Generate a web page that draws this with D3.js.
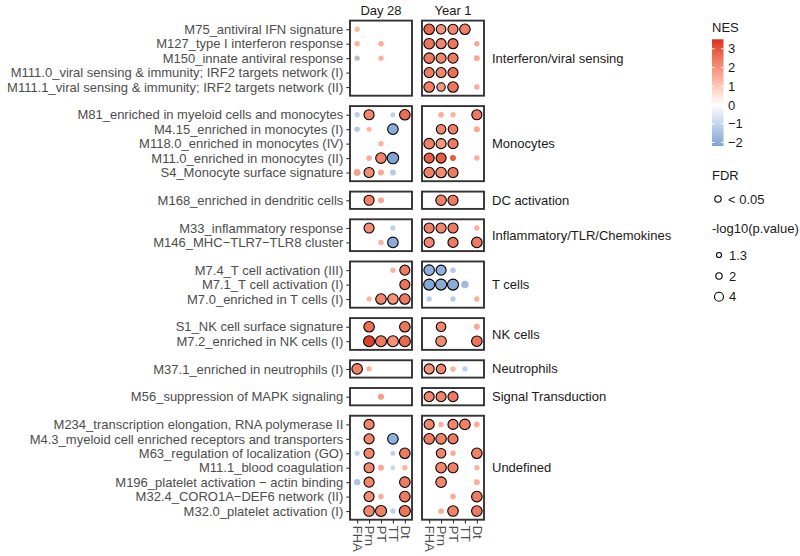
<!DOCTYPE html>
<html><head><meta charset="utf-8">
<script src="https://cdn.jsdelivr.net/npm/d3@7"></script>
<style>body{margin:0;background:#fff}svg{display:block;font-family:"Liberation Sans",Arial,sans-serif}</style>
</head><body><svg id="c" width="800" height="556"></svg>
<script>
const timepoints = ["Day 28", "Year 1"];
const tpKeys = ["D", "Y"];
const antigens = ["FHA", "Prn", "PT", "TT", "Dt"];
const groups = ["Interferon/viral sensing","Monocytes","DC activation","Inflammatory/TLR/Chemokines","T cells","NK cells","Neutrophils","Signal Transduction","Undefined"];
const moduleCodes = [
  ["M75","M127","M150","M111.0","M111.1"],
  ["M81","M4.15","M118.0","M11.0","S4"],
  ["M168"],
  ["M33","M146"],
  ["M7.4","M7.1","M7.0"],
  ["S1","M7.2"],
  ["M37.1"],
  ["M56"],
  ["M234","M4.3","M63","M11.1","M196","M32.4","M32.0"]
];
const moduleNames = {
  "M75":"M75_antiviral IFN signature","M127":"M127_type I interferon response","M150":"M150_innate antiviral response",
  "M111.0":"M111.0_viral sensing & immunity; IRF2 targets network (I)","M111.1":"M111.1_viral sensing & immunity; IRF2 targets network (II)",
  "M81":"M81_enriched in myeloid cells and monocytes","M4.15":"M4.15_enriched in monocytes (I)","M118.0":"M118.0_enriched in monocytes (IV)",
  "M11.0":"M11.0_enriched in monocytes (II)","S4":"S4_Monocyte surface signature","M168":"M168_enriched in dendritic cells",
  "M33":"M33_inflammatory response","M146":"M146_MHC\u2212TLR7\u2212TLR8 cluster","M7.4":"M7.4_T cell activation (III)",
  "M7.1":"M7.1_T cell activation (I)","M7.0":"M7.0_enriched in T cells (I)","S1":"S1_NK cell surface signature",
  "M7.2":"M7.2_enriched in NK cells (I)","M37.1":"M37.1_enriched in neutrophils (I)","M56":"M56_suppression of MAPK signaling",
  "M234":"M234_transcription elongation, RNA polymerase II","M4.3":"M4.3_myeloid cell enriched receptors and transporters",
  "M63":"M63_regulation of localization (GO)","M11.1":"M11.1_blood coagulation","M196":"M196_platelet activation \u2212 actin binding",
  "M32.4":"M32.4_CORO1A\u2212DEF6 network (II)","M32.0":"M32.0_platelet activation (I)"
};
// [module, timepoint, antigen, NES, -log10(p), FDR<0.05]
const points = [
 ["M75","D","FHA",1.3,1.4,0],
 ["M127","D","FHA",1.4,1.4,0],["M127","D","PT",1.5,1.5,0],
 ["M150","D","FHA",null,1.3,0],["M150","D","PT",1.4,1.4,0],
 ["M81","D","FHA",-1.2,1.4,0],["M81","D","Prn",2.2,5,1],["M81","D","TT",-1.1,1.3,0],["M81","D","Dt",2.6,5.5,1],
 ["M4.15","D","FHA",-1.3,1.5,0],["M4.15","D","Prn",1.3,1.3,0],["M4.15","D","TT",-2.0,5.5,1],
 ["M118.0","D","PT",1.4,1.4,0],
 ["M11.0","D","Prn",1.5,1.6,0],["M11.0","D","PT",2.2,5.5,1],["M11.0","D","TT",-2.2,6.5,1],
 ["S4","D","FHA",1.7,2.3,0],["S4","D","Prn",2.1,5,1],["S4","D","PT",1.6,1.8,0],["S4","D","TT",-1.3,1.7,0],
 ["M168","D","Prn",2.3,5,1],["M168","D","PT",1.6,1.8,0],
 ["M33","D","Prn",2.1,5,1],["M33","D","TT",-1.1,1.4,0],
 ["M146","D","PT",1.4,1.5,0],["M146","D","TT",-2.0,5.5,1],
 ["M7.4","D","TT",1.4,1.4,0],["M7.4","D","Dt",2.4,5,1],
 ["M7.1","D","Dt",2.5,5,1],
 ["M7.0","D","Prn",1.3,1.4,0],["M7.0","D","PT",2.2,5.5,1],["M7.0","D","TT",2.0,5.5,1],["M7.0","D","Dt",2.4,5.5,1],
 ["S1","D","Prn",2.6,5.5,1],["S1","D","Dt",2.5,5.5,1],
 ["M7.2","D","Prn",3.3,6,1],["M7.2","D","PT",2.4,6,1],["M7.2","D","TT",2.0,6,1],["M7.2","D","Dt",2.7,6,1],
 ["M37.1","D","FHA",2.3,5.5,1],["M37.1","D","Prn",1.4,1.4,0],
 ["M56","D","PT",1.8,1.8,0],
 ["M234","D","Prn",2.2,5,1],
 ["M4.3","D","Prn",2.2,5,1],["M4.3","D","TT",-1.9,5.5,1],
 ["M63","D","FHA",-1.1,1.3,0],["M63","D","Prn",2.2,5,1],["M63","D","TT",-1.1,1.3,0],["M63","D","Dt",2.4,5.5,1],
 ["M11.1","D","Prn",2.2,5,1],["M11.1","D","PT",1.6,1.7,0],["M11.1","D","TT",-1.0,1.2,0],["M11.1","D","Dt",1.4,1.5,0],
 ["M196","D","FHA",-1.4,2.0,0],["M196","D","Prn",2.2,5,1],["M196","D","Dt",2.4,5.5,1],
 ["M32.4","D","Prn",2.1,5,1],["M32.4","D","PT",1.5,1.5,0],["M32.4","D","Dt",2.4,5.5,1],
 ["M32.0","D","Prn",2.2,5.5,1],["M32.0","D","PT",2.3,6,1],["M32.0","D","TT",-1.1,1.4,0],["M32.0","D","Dt",2.5,6,1],
 ["M75","Y","FHA",2.7,5.5,1],["M75","Y","Prn",2.0,4.5,1],["M75","Y","PT",2.2,5,1],["M75","Y","TT",2.3,5.5,1],
 ["M127","Y","FHA",2.5,5.5,1],["M127","Y","Prn",2.2,5,1],["M127","Y","PT",2.5,5,1],["M127","Y","Dt",1.6,1.5,0],
 ["M150","Y","FHA",2.4,5.5,1],["M150","Y","Prn",2.2,5,1],["M150","Y","PT",2.4,5,1],["M150","Y","Dt",1.6,1.7,0],
 ["M111.0","Y","FHA",2.4,5,1],["M111.0","Y","Prn",2.2,5,1],["M111.0","Y","PT",2.6,5,1],
 ["M111.1","Y","FHA",2.3,5.5,1],["M111.1","Y","Prn",1.9,3.5,1],["M111.1","Y","PT",2.5,5.5,1],["M111.1","Y","Dt",1.5,1.5,0],
 ["M81","Y","Prn",1.5,1.6,0],["M81","Y","PT",1.4,1.5,0],["M81","Y","Dt",2.4,5,1],
 ["M4.15","Y","Prn",2.2,4.5,1],["M4.15","Y","PT",2.3,4.5,1],["M4.15","Y","Dt",1.6,1.8,0],
 ["M118.0","Y","FHA",2.3,5.5,1],["M118.0","Y","Prn",1.9,5,1],["M118.0","Y","PT",2.4,5,1],
 ["M11.0","Y","FHA",2.9,5,1],["M11.0","Y","Prn",2.9,5,1],["M11.0","Y","PT",2.9,1.8,0],["M11.0","Y","Dt",1.5,1.5,0],
 ["S4","Y","FHA",2.3,5.5,1],["S4","Y","Prn",2.1,5.5,1],["S4","Y","PT",2.4,5,1],
 ["M168","Y","Prn",2.3,5.5,1],["M168","Y","PT",2.4,5,1],
 ["M33","Y","FHA",2.3,5,1],["M33","Y","Prn",2.2,5,1],["M33","Y","PT",2.4,5,1],["M33","Y","Dt",1.5,1.4,0],
 ["M146","Y","FHA",2.2,5,1],["M146","Y","PT",2.4,5,1],["M146","Y","Dt",2.4,5.5,1],
 ["M7.4","Y","FHA",-1.9,5.5,1],["M7.4","Y","Prn",-1.9,5,1],["M7.4","Y","PT",-1.3,1.5,0],
 ["M7.1","Y","FHA",-2.1,6,1],["M7.1","Y","Prn",-2.0,6,1],["M7.1","Y","PT",-2.0,6,1],["M7.1","Y","TT",-1.6,2.8,0],
 ["M7.0","Y","FHA",-1.2,1.4,0],["M7.0","Y","PT",-1.2,1.4,0],["M7.0","Y","Dt",1.5,1.4,0],
 ["S1","Y","Prn",2.2,4.5,1],["S1","Y","Dt",1.6,1.7,0],
 ["M7.2","Y","Prn",2.1,5.5,1],["M7.2","Y","Dt",2.5,5.5,1],
 ["M37.1","Y","FHA",2.0,5,1],["M37.1","Y","Prn",2.2,4.5,1],["M37.1","Y","PT",1.4,1.5,0],["M37.1","Y","TT",-1.1,1.4,0],
 ["M56","Y","FHA",2.2,5,1],["M56","Y","Prn",2.2,5,1],["M56","Y","PT",2.4,5,1],
 ["M234","Y","FHA",2.2,5,1],["M234","Y","Prn",1.5,1.4,0],["M234","Y","PT",2.2,5,1],["M234","Y","TT",2.3,5.5,1],["M234","Y","Dt",1.5,1.6,0],
 ["M4.3","Y","FHA",2.4,5.5,1],["M4.3","Y","Prn",2.3,5.5,1],["M4.3","Y","PT",2.4,5,1],
 ["M63","Y","Prn",2.2,4.5,1],["M63","Y","PT",1.5,1.5,0],["M63","Y","Dt",2.3,5.5,1],
 ["M11.1","Y","Prn",2.2,5.5,1],["M11.1","Y","PT",2.3,5,1],["M11.1","Y","Dt",1.4,1.4,0],
 ["M196","Y","Prn",2.2,5.5,1],["M196","Y","Dt",1.5,1.7,0],
 ["M32.4","Y","PT",1.5,1.6,0],["M32.4","Y","Dt",2.4,5.5,1],
 ["M32.0","Y","Prn",1.5,1.6,0],["M32.0","Y","PT",2.3,5.5,1],["M32.0","Y","Dt",2.4,5.5,1]
];
const nesTicks = [3, 2, 1, 0, -1, -2];
const nesLimits = [-2.19, 3.51];
const sizeTicks = [1.3, 2, 4];
const sizeLabels = ["1.3", "2", "4"];

const svg = d3.select("#c");
const FS = 13;
const plotTop = 20.6, plotBottom = 519.7, gap = 10.4;
const colX = [[350, 412], [422, 484]];
const totalUnits = d3.sum(moduleCodes, m => m.length - 1 + 1.2);
const unit = (plotBottom - plotTop - gap * (groups.length - 1)) / totalUnits;

const LOW = "#346dbc", MID = "#ffffff", HIGH = "#d8301f";
const color = d3.scaleLinear().domain([-3.5, 0, 3.5]).range([LOW, MID, HIGH])
  .interpolate((a, b) => (a === LOW ? d3.interpolateRgb(a, b) : d3.interpolateLab(a, b)));
const rScale = d3.scaleSqrt().domain([0, 4]).range([0, 4.5]);
const xScales = colX.map(r => d3.scalePoint().domain(antigens).range(r).padding(0.6));

const axisCol = "#4d4d4d", tickCol = "#333333", borderCol = "#333333";

timepoints.forEach((t, i) => {
  svg.append("text").attr("x", (colX[i][0] + colX[i][1]) / 2).attr("y", 15)
    .attr("text-anchor", "middle").attr("font-size", FS).attr("fill", "#1a1a1a").text(t);
});

let yCur = plotTop;
groups.forEach((g, gi) => {
  const mods = moduleCodes[gi];
  const h = (mods.length - 1 + 1.2) * unit;
  const y = d3.scalePoint().domain(mods).range([yCur, yCur + h]).padding(0.6);
  const ya = svg.append("g").attr("transform", `translate(${colX[0][0]},0)`)
    .call(d3.axisLeft(y).tickSize(3.7).tickPadding(3).tickFormat(d => moduleNames[d]));
  ya.select(".domain").remove();
  ya.selectAll("line").attr("stroke", tickCol).attr("stroke-width", 1.1);
  ya.selectAll("text").attr("font-size", FS).attr("fill", axisCol).attr("font-family", "Liberation Sans, Arial, sans-serif");

  tpKeys.forEach((tk, ti) => {
    const x = xScales[ti];
    const pg = svg.append("g");
    pg.append("rect").attr("x", colX[ti][0]).attr("y", yCur).attr("width", colX[ti][1] - colX[ti][0]).attr("height", h)
      .attr("fill", "white");
    const pts = points.filter(p => p[1] === tk && mods.includes(p[0]));
    pg.selectAll("circle").data(pts).join("circle")
      .attr("cx", d => x(d[2])).attr("cy", d => y(d[0]))
      .attr("r", d => rScale(d[4]))
      .attr("fill", d => d[3] === null ? "#bdbdbd" : color(d[3]))
      .attr("stroke", d => d[5] ? "black" : "none").attr("stroke-width", 1.1);
    pg.append("rect").attr("x", colX[ti][0]).attr("y", yCur).attr("width", colX[ti][1] - colX[ti][0]).attr("height", h)
      .attr("fill", "none").attr("stroke", borderCol).attr("stroke-width", 1.9);
  });
  svg.append("text").attr("x", 492).attr("y", yCur + h / 2).attr("dy", "0.35em")
    .attr("font-size", FS).attr("fill", "#1a1a1a").text(g);
  yCur += h + gap;
});

xScales.forEach((x, i) => {
  const xa = svg.append("g").attr("transform", `translate(0,${plotBottom})`)
    .call(d3.axisBottom(x).tickSize(3.7).tickPadding(0));
  xa.select(".domain").remove();
  xa.selectAll("line").attr("stroke", tickCol).attr("stroke-width", 1.1);
  xa.selectAll("text").attr("font-size", FS).attr("fill", axisCol)
    .attr("text-anchor", "start").attr("dy", null)
    .attr("transform", "translate(0,6) rotate(90)").attr("x", 0).attr("y", 0)
    .attr("dominant-baseline", "central");
});

const lg = svg.append("g");
lg.append("text").attr("x", 712).attr("y", 32).attr("font-size", FS).attr("fill", "#1a1a1a").text("NES");
const cbY = d3.scaleLinear().domain(nesLimits).range([146, 39.3]);
const defs = svg.append("defs");
const grad = defs.append("linearGradient").attr("id", "nesg").attr("x1", 0).attr("y1", 1).attr("x2", 0).attr("y2", 0);
d3.range(0, 41).forEach(i => {
  const v = nesLimits[0] + (nesLimits[1] - nesLimits[0]) * i / 40;
  grad.append("stop").attr("offset", i / 40).attr("stop-color", color(v));
});
lg.append("rect").attr("x", 712).attr("y", cbY(nesLimits[1])).attr("width", 11.5)
  .attr("height", cbY(nesLimits[0]) - cbY(nesLimits[1])).attr("fill", "url(#nesg)");
nesTicks.forEach(t => {
  lg.append("line").attr("x1", 712).attr("x2", 714.5).attr("y1", cbY(t)).attr("y2", cbY(t)).attr("stroke", "white").attr("stroke-width", 1);
  lg.append("line").attr("x1", 721).attr("x2", 723.5).attr("y1", cbY(t)).attr("y2", cbY(t)).attr("stroke", "white").attr("stroke-width", 1);
  lg.append("text").attr("x", 728).attr("y", cbY(t)).attr("dy", "0.35em").attr("font-size", FS).attr("fill", "#1a1a1a")
    .text(t < 0 ? "\u2212" + Math.abs(t) : String(t));
});

lg.append("text").attr("x", 712).attr("y", 180).attr("font-size", FS).attr("fill", "#1a1a1a").text("FDR");
lg.append("circle").attr("cx", 718).attr("cy", 199).attr("r", rScale(2)).attr("fill", "none").attr("stroke", "black").attr("stroke-width", 1.1);
lg.append("text").attr("x", 728).attr("y", 199).attr("dy", "0.35em").attr("font-size", FS).attr("fill", "#1a1a1a").text("< 0.05");

lg.append("text").attr("x", 712).attr("y", 233).attr("font-size", FS).attr("fill", "#1a1a1a").text("-log10(p.value)");
const sizeY = [255, 276, 296.7];
sizeTicks.forEach((s, i) => {
  lg.append("circle").attr("cx", 719).attr("cy", sizeY[i]).attr("r", rScale(s)).attr("fill", "none").attr("stroke", "black").attr("stroke-width", 1.1);
  lg.append("text").attr("x", 729).attr("y", sizeY[i]).attr("dy", "0.35em").attr("font-size", FS).attr("fill", "#1a1a1a").text(sizeLabels[i]);
});
</script></body></html>
